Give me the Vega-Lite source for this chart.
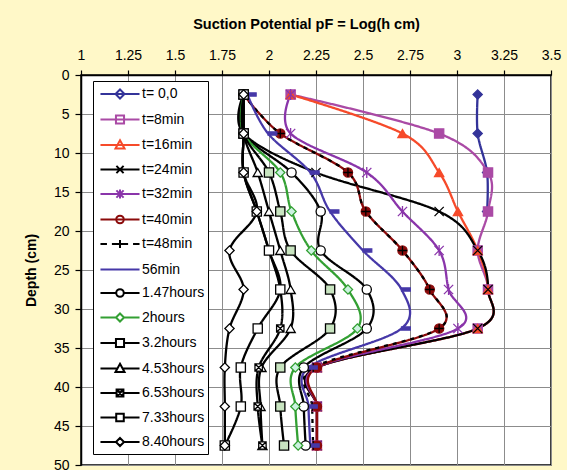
{
  "$schema": "https://vega.github.io/schema/vega-lite/v6.json",
  "width": 470,
  "height": 390,
  "autosize": {"type": "none"},
  "padding": {"left": 81, "top": 75, "right": 16, "bottom": 5},
  "background": "#FFF8C8",
  "config": {
    "font": "Liberation Sans",
    "view": {"fill": "white", "stroke": "black", "strokeWidth": 1.5},
    "axis": {
      "labelFont": "Liberation Sans",
      "titleFont": "Liberation Sans",
      "labelFontSize": 14,
      "labelColor": "black",
      "titleColor": "black",
      "titleFontWeight": "bold",
      "gridColor": "#8c8c8c",
      "gridOpacity": 1,
      "gridWidth": 1,
      "domainColor": "black",
      "domainWidth": 1.5,
      "tickColor": "black",
      "tickWidth": 1.2
    }
  },
  "data": {
    "values": [
      {"s": "t= 0,0", "d": 2.5, "pf": 3.11}, {"s": "t= 0,0", "d": 7.5, "pf": 3.11}, {"s": "t= 0,0", "d": 12.5, "pf": 3.16}, {"s": "t= 0,0", "d": 17.5, "pf": 3.16},

      {"s": "t=8min", "d": 2.5, "pf": 2.115}, {"s": "t=8min", "d": 7.5, "pf": 2.905}, {"s": "t=8min", "d": 12.5, "pf": 3.165}, {"s": "t=8min", "d": 17.5, "pf": 3.165}, {"s": "t=8min", "d": 22.5, "pf": 3.11}, {"s": "t=8min", "d": 27.5, "pf": 3.165}, {"s": "t=8min", "d": 32.5, "pf": 3.11}, {"s": "t=8min", "d": 37.5, "pf": 2.255}, {"s": "t=8min", "d": 42.5, "pf": 2.255}, {"s": "t=8min", "d": 47.5, "pf": 2.255},

      {"s": "t=16min", "d": 2.5, "pf": 2.115}, {"s": "t=16min", "d": 7.5, "pf": 2.71}, {"s": "t=16min", "d": 12.5, "pf": 2.905}, {"s": "t=16min", "d": 17.5, "pf": 3.005}, {"s": "t=16min", "d": 22.5, "pf": 3.11}, {"s": "t=16min", "d": 27.5, "pf": 3.165}, {"s": "t=16min", "d": 32.5, "pf": 3.11}, {"s": "t=16min", "d": 37.5, "pf": 2.255}, {"s": "t=16min", "d": 42.5, "pf": 2.255}, {"s": "t=16min", "d": 47.5, "pf": 2.255},

      {"s": "t=24min", "d": 2.5, "pf": 1.865}, {"s": "t=24min", "d": 7.5, "pf": 1.865}, {"s": "t=24min", "d": 12.5, "pf": 2.25}, {"s": "t=24min", "d": 17.5, "pf": 2.905}, {"s": "t=24min", "d": 22.5, "pf": 3.11}, {"s": "t=24min", "d": 27.5, "pf": 3.165}, {"s": "t=24min", "d": 32.5, "pf": 3.11}, {"s": "t=24min", "d": 37.5, "pf": 2.255}, {"s": "t=24min", "d": 42.5, "pf": 2.255}, {"s": "t=24min", "d": 47.5, "pf": 2.255},

      {"s": "t=32min", "d": 2.5, "pf": 2.115}, {"s": "t=32min", "d": 7.5, "pf": 2.115}, {"s": "t=32min", "d": 12.5, "pf": 2.52}, {"s": "t=32min", "d": 17.5, "pf": 2.71}, {"s": "t=32min", "d": 22.5, "pf": 2.905}, {"s": "t=32min", "d": 27.5, "pf": 2.955}, {"s": "t=32min", "d": 32.5, "pf": 3.005}, {"s": "t=32min", "d": 37.5, "pf": 2.255}, {"s": "t=32min", "d": 42.5, "pf": 2.255}, {"s": "t=32min", "d": 47.5, "pf": 2.255},

      {"s": "t=40min", "d": 2.5, "pf": 1.865}, {"s": "t=40min", "d": 7.5, "pf": 2.06}, {"s": "t=40min", "d": 12.5, "pf": 2.42}, {"s": "t=40min", "d": 17.5, "pf": 2.515}, {"s": "t=40min", "d": 22.5, "pf": 2.71}, {"s": "t=40min", "d": 27.5, "pf": 2.855}, {"s": "t=40min", "d": 32.5, "pf": 2.905}, {"s": "t=40min", "d": 37.5, "pf": 2.255}, {"s": "t=40min", "d": 42.5, "pf": 2.255}, {"s": "t=40min", "d": 47.5, "pf": 2.255},

      {"s": "t=48min", "d": 2.5, "pf": 1.865}, {"s": "t=48min", "d": 7.5, "pf": 2.06}, {"s": "t=48min", "d": 12.5, "pf": 2.42}, {"s": "t=48min", "d": 17.5, "pf": 2.515}, {"s": "t=48min", "d": 22.5, "pf": 2.71}, {"s": "t=48min", "d": 27.5, "pf": 2.855}, {"s": "t=48min", "d": 32.5, "pf": 2.905}, {"s": "t=48min", "d": 37.5, "pf": 2.235}, {"s": "t=48min", "d": 42.5, "pf": 2.23}, {"s": "t=48min", "d": 47.5, "pf": 2.235},

      {"s": "56min", "d": 2.5, "pf": 1.885}, {"s": "56min", "d": 7.5, "pf": 1.995}, {"s": "56min", "d": 12.5, "pf": 2.22}, {"s": "56min", "d": 17.5, "pf": 2.325}, {"s": "56min", "d": 22.5, "pf": 2.5}, {"s": "56min", "d": 27.5, "pf": 2.705}, {"s": "56min", "d": 32.5, "pf": 2.705}, {"s": "56min", "d": 37.5, "pf": 2.21}, {"s": "56min", "d": 42.5, "pf": 2.21}, {"s": "56min", "d": 47.5, "pf": 2.22},

      {"s": "1.47hours", "d": 2.5, "pf": 1.865}, {"s": "1.47hours", "d": 7.5, "pf": 1.865}, {"s": "1.47hours", "d": 12.5, "pf": 2.12}, {"s": "1.47hours", "d": 17.5, "pf": 2.275}, {"s": "1.47hours", "d": 22.5, "pf": 2.275}, {"s": "1.47hours", "d": 27.5, "pf": 2.52}, {"s": "1.47hours", "d": 32.5, "pf": 2.52}, {"s": "1.47hours", "d": 37.5, "pf": 2.185}, {"s": "1.47hours", "d": 42.5, "pf": 2.185}, {"s": "1.47hours", "d": 47.5, "pf": 2.195},

      {"s": "2hours", "d": 2.5, "pf": 1.865}, {"s": "2hours", "d": 7.5, "pf": 1.865}, {"s": "2hours", "d": 12.5, "pf": 2.06}, {"s": "2hours", "d": 17.5, "pf": 2.12}, {"s": "2hours", "d": 22.5, "pf": 2.225}, {"s": "2hours", "d": 27.5, "pf": 2.42}, {"s": "2hours", "d": 32.5, "pf": 2.47}, {"s": "2hours", "d": 37.5, "pf": 2.14}, {"s": "2hours", "d": 42.5, "pf": 2.14}, {"s": "2hours", "d": 47.5, "pf": 2.155},

      {"s": "3.2hours", "d": 2.5, "pf": 1.865}, {"s": "3.2hours", "d": 7.5, "pf": 1.865}, {"s": "3.2hours", "d": 12.5, "pf": 2.0}, {"s": "3.2hours", "d": 17.5, "pf": 2.06}, {"s": "3.2hours", "d": 22.5, "pf": 2.115}, {"s": "3.2hours", "d": 27.5, "pf": 2.325}, {"s": "3.2hours", "d": 32.5, "pf": 2.325}, {"s": "3.2hours", "d": 37.5, "pf": 2.06}, {"s": "3.2hours", "d": 42.5, "pf": 2.06}, {"s": "3.2hours", "d": 47.5, "pf": 2.08},

      {"s": "4.53hours", "d": 2.5, "pf": 1.865}, {"s": "4.53hours", "d": 7.5, "pf": 1.865}, {"s": "4.53hours", "d": 12.5, "pf": 1.94}, {"s": "4.53hours", "d": 17.5, "pf": 2.0}, {"s": "4.53hours", "d": 22.5, "pf": 2.06}, {"s": "4.53hours", "d": 27.5, "pf": 2.115}, {"s": "4.53hours", "d": 32.5, "pf": 2.115}, {"s": "4.53hours", "d": 37.5, "pf": 1.96}, {"s": "4.53hours", "d": 42.5, "pf": 1.955}, {"s": "4.53hours", "d": 47.5, "pf": 1.965},

      {"s": "6.53hours", "d": 2.5, "pf": 1.865}, {"s": "6.53hours", "d": 7.5, "pf": 1.865}, {"s": "6.53hours", "d": 12.5, "pf": 1.865}, {"s": "6.53hours", "d": 17.5, "pf": 1.935}, {"s": "6.53hours", "d": 22.5, "pf": 2.0}, {"s": "6.53hours", "d": 27.5, "pf": 2.06}, {"s": "6.53hours", "d": 32.5, "pf": 2.06}, {"s": "6.53hours", "d": 37.5, "pf": 1.945}, {"s": "6.53hours", "d": 42.5, "pf": 1.94}, {"s": "6.53hours", "d": 47.5, "pf": 1.965},

      {"s": "7.33hours", "d": 2.5, "pf": 1.865}, {"s": "7.33hours", "d": 7.5, "pf": 1.865}, {"s": "7.33hours", "d": 12.5, "pf": 1.865}, {"s": "7.33hours", "d": 17.5, "pf": 1.935}, {"s": "7.33hours", "d": 22.5, "pf": 2.0}, {"s": "7.33hours", "d": 27.5, "pf": 2.06}, {"s": "7.33hours", "d": 32.5, "pf": 1.94}, {"s": "7.33hours", "d": 37.5, "pf": 1.85}, {"s": "7.33hours", "d": 42.5, "pf": 1.85}, {"s": "7.33hours", "d": 47.5, "pf": 1.765},

      {"s": "8.40hours", "d": 2.5, "pf": 1.865}, {"s": "8.40hours", "d": 7.5, "pf": 1.865}, {"s": "8.40hours", "d": 12.5, "pf": 1.865}, {"s": "8.40hours", "d": 17.5, "pf": 1.935}, {"s": "8.40hours", "d": 22.5, "pf": 1.79}, {"s": "8.40hours", "d": 27.5, "pf": 1.865}, {"s": "8.40hours", "d": 32.5, "pf": 1.79}, {"s": "8.40hours", "d": 37.5, "pf": 1.765}, {"s": "8.40hours", "d": 42.5, "pf": 1.765}, {"s": "8.40hours", "d": 47.5, "pf": 1.765}
    ]
  },
  "encoding": {
    "x": {
      "field": "pf",
      "type": "quantitative",
      "scale": {"domain": [1, 3.5], "nice": false, "zero": false},
      "axis": {
        "orient": "top",
        "title": "Suction Potential pF = Log(h cm)",
        "titleFontSize": 14.5,
        "titlePadding": 17,
        "titleX": 225,
        "values": [1, 1.25, 1.5, 1.75, 2, 2.25, 2.5, 2.75, 3, 3.25, 3.5],
        "format": ".2~f",
        "tickSize": 5,
        "labelPadding": 8,
        "labelFlush": false,
        "labelOverlap": false
      }
    },
    "y": {
      "field": "d",
      "type": "quantitative",
      "scale": {"domain": [0, 50], "reverse": true, "nice": false},
      "axis": {
        "title": "Depth (cm)",
        "titleFontSize": 14,
        "titlePadding": 15,
        "values": [0, 5, 10, 15, 20, 25, 30, 35, 40, 45, 50],
        "tickSize": 6,
        "labelPadding": 6,
        "labelFlush": false,
        "labelOverlap": false
      }
    }
  },
  "layer": [
    {
      "mark": {"type": "line", "interpolate": "cardinal", "tension": 0, "strokeWidth": 2.3},
      "encoding": {
        "order": {"field": "d", "type": "quantitative"},
        "stroke": {
          "field": "s",
          "type": "nominal",
          "legend": null,
          "scale": {
            "domain": ["t= 0,0", "t=8min", "t=16min", "t=24min", "t=32min", "t=40min", "t=48min", "56min", "1.47hours", "2hours", "3.2hours", "4.53hours", "6.53hours", "7.33hours", "8.40hours"],
            "range": ["#333399", "#AA4AA5", "#F64A2A", "#000000", "#8A35AA", "#8B0A0A", "#000000", "#4638A8", "#000000", "#33A033", "#000000", "#000000", "#000000", "#000000", "#000000"]
          }
        },
        "strokeDash": {
          "field": "s",
          "type": "nominal",
          "legend": null,
          "scale": {
            "domain": ["t= 0,0", "t=8min", "t=16min", "t=24min", "t=32min", "t=40min", "t=48min", "56min", "1.47hours", "2hours", "3.2hours", "4.53hours", "6.53hours", "7.33hours", "8.40hours"],
            "range": [[1, 0], [1, 0], [1, 0], [1, 0], [1, 0], [1, 0], [4, 5], [1, 0], [1, 0], [1, 0], [1, 0], [1, 0], [1, 0], [1, 0], [1, 0]]
          }
        }
      }
    },
    {
      "mark": {"type": "point", "size": 85, "strokeWidth": 1.3, "opacity": 1},
      "encoding": {
        "shape": {
          "field": "s",
          "type": "nominal",
          "legend": null,
          "scale": {
            "domain": ["t= 0,0", "t=8min", "t=16min", "t=24min", "t=32min", "t=40min", "t=48min", "56min", "1.47hours", "2hours", "3.2hours", "4.53hours", "6.53hours", "7.33hours", "8.40hours"],
            "range": [
              "diamond",
              "square",
              "triangle-up",
              "M-1,-1L1,1M-1,1L1,-1",
              "M-1,-1L1,1M-1,1L1,-1M0,-1.2V1.2",
              "circle",
              "M-1,0H1M0,-1V1",
              "M0,-0.35H1.9V0.35H0Z",
              "circle",
              "diamond",
              "square",
              "triangle-up",
              "M-0.8,-0.8H0.8V0.8H-0.8ZM-0.8,-0.8L0.8,0.8M-0.8,0.8L0.8,-0.8",
              "square",
              "diamond"
            ]
          }
        },
        "fill": {
          "field": "s",
          "type": "nominal",
          "legend": null,
          "scale": {
            "domain": ["t= 0,0", "t=8min", "t=16min", "t=24min", "t=32min", "t=40min", "t=48min", "56min", "1.47hours", "2hours", "3.2hours", "4.53hours", "6.53hours", "7.33hours", "8.40hours"],
            "range": ["#333399", "#AA4AA5", "#F64A2A", "#000000", "#8A35AA", "#8B0A0A", "#000000", "#4638A8", "#FFFFFF", "#CCF2E0", "#C8E4C0", "#FFFFFF", "#FFFFFF", "#FFFFFF", "#FFFFFF"]
          }
        },
        "stroke": {
          "field": "s",
          "type": "nominal",
          "legend": null,
          "scale": {
            "domain": ["t= 0,0", "t=8min", "t=16min", "t=24min", "t=32min", "t=40min", "t=48min", "56min", "1.47hours", "2hours", "3.2hours", "4.53hours", "6.53hours", "7.33hours", "8.40hours"],
            "range": ["#333399", "#AA4AA5", "#F64A2A", "#000000", "#8A35AA", "#8B0A0A", "#000000", "#4638A8", "#000000", "#33A033", "#000000", "#000000", "#000000", "#000000", "#000000"]
          }
        }
      }
    },
    {
      "mark": {"type": "point", "opacity": 0},
      "encoding": {
        "shape": {
          "field": "s",
          "type": "nominal",
          "scale": {
            "domain": ["t= 0,0", "t=8min", "t=16min", "t=24min", "t=32min", "t=40min", "t=48min", "56min", "1.47hours", "2hours", "3.2hours", "4.53hours", "6.53hours", "7.33hours", "8.40hours"],
            "range": [
              "M-2.17,0H2.17M0,-0.5L0.5,0L0,0.5L-0.5,0Z",
              "M-2.17,0H2.17M-0.45,-0.45H0.45V0.45H-0.45Z",
              "M-2.17,0H2.17M0,-0.52L0.5,0.38H-0.5Z",
              "M-2.17,0H2.17M-0.4,-0.4L0.4,0.4M-0.4,0.4L0.4,-0.4",
              "M-2.17,0H2.17M-0.4,-0.4L0.4,0.4M-0.4,0.4L0.4,-0.4M0,-0.5V0.5",
              "M-2.17,0H2.17M-0.42,0A0.42,0.42 0 1,0 0.42,0A0.42,0.42 0 1,0 -0.42,0Z",
              "M-2.17,0H-1.45M-0.9,0H0.9M0,-0.45V0.45M1.45,0H2.17",
              "M-2.17,0H2.17",
              "M-2.17,0H-0.42M0.42,0H2.17M-0.42,0A0.42,0.42 0 1,0 0.42,0A0.42,0.42 0 1,0 -0.42,0Z",
              "M-2.17,0H-0.45M0.45,0H2.17M0,-0.45L0.45,0L0,0.45L-0.45,0Z",
              "M-2.17,0H-0.45M0.45,0H2.17M-0.45,-0.45H0.45V0.45H-0.45Z",
              "M-2.17,0H-0.29M0.29,0H2.17M0,-0.52L0.5,0.38H-0.5Z",
              "M-2.17,0H-0.38M0.38,0H2.17M-0.38,-0.38H0.38V0.38H-0.38ZM-0.38,-0.38L0.38,0.38M-0.38,0.38L0.38,-0.38",
              "M-2.17,0H-0.42M0.42,0H2.17M-0.42,-0.42H0.42V0.42H-0.42Z",
              "M-2.17,0H-0.45M0.45,0H2.17M0,-0.45L0.45,0L0,0.45L-0.45,0Z"
            ]
          },
          "legend": {
            "title": null,
            "orient": "none",
            "legendX": 12,
            "legendY": 6,
            "fillColor": "white",
            "strokeColor": "black",
            "padding": 3,
            "symbolSize": 324,
            "symbolStrokeWidth": 2,
            "symbolOffset": 14,
            "labelOffset": 12,
            "labelFont": "Liberation Sans",
            "labelFontSize": 14,
            "labelColor": "black",
            "labelLimit": 200,
            "rowPadding": 6.5,
            "symbolLimit": 0,
            "encode": {"symbols": {"update": {"opacity": {"value": 1}}}}
          }
        },
        "fill": {
          "field": "s",
          "type": "nominal",
          "scale": {
            "domain": ["t= 0,0", "t=8min", "t=16min", "t=24min", "t=32min", "t=40min", "t=48min", "56min", "1.47hours", "2hours", "3.2hours", "4.53hours", "6.53hours", "7.33hours", "8.40hours"],
            "range": ["#333399", "#AA4AA5", "#F64A2A", "#000000", "#8A35AA", "#8B0A0A", "#000000", "#4638A8", "#FFFFFF", "#CCF2E0", "#C8E4C0", "#FFFFFF", "#FFFFFF", "#FFFFFF", "#FFFFFF"]
          },
          "legend": {"title": null}
        },
        "stroke": {
          "field": "s",
          "type": "nominal",
          "scale": {
            "domain": ["t= 0,0", "t=8min", "t=16min", "t=24min", "t=32min", "t=40min", "t=48min", "56min", "1.47hours", "2hours", "3.2hours", "4.53hours", "6.53hours", "7.33hours", "8.40hours"],
            "range": ["#333399", "#AA4AA5", "#F64A2A", "#000000", "#8A35AA", "#8B0A0A", "#000000", "#4638A8", "#000000", "#33A033", "#000000", "#000000", "#000000", "#000000", "#000000"]
          },
          "legend": {"title": null}
        }
      }
    }
  ],
  "resolve": {
    "scale": {"shape": "independent", "fill": "independent", "stroke": "independent", "strokeDash": "independent"},
    "legend": {"shape": "independent", "fill": "independent", "stroke": "independent", "strokeDash": "independent"}
  }
}
